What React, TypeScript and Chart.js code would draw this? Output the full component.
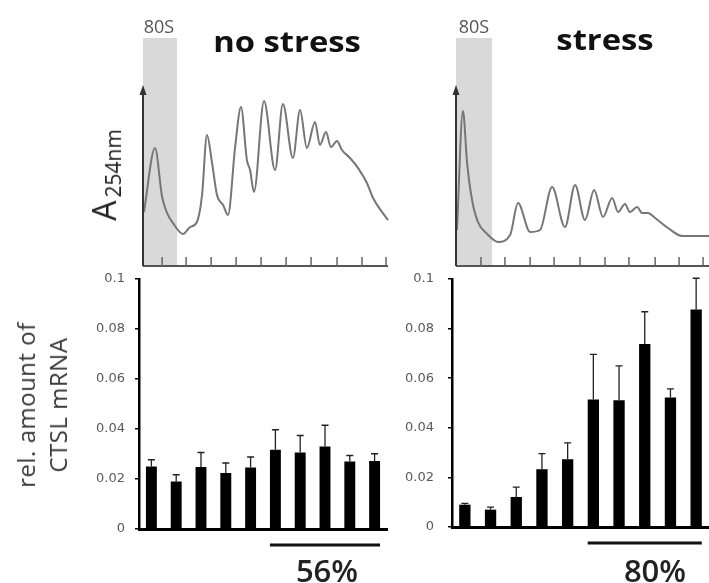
import React, { useEffect, useRef } from 'react';
import { Chart, registerables } from 'chart.js';

Chart.register(...registerables);

// ---------- data ----------
const fractions = ['1', '2', '3', '4', '5', '6', '7', '8', '9', '10'];
const yTickValues = [0, 0.02, 0.04, 0.06, 0.08, 0.1];

const noStressMean = [0.025, 0.019, 0.0248, 0.0224, 0.0246, 0.0317, 0.0306, 0.033, 0.027, 0.0272];
const noStressErr = [0.0027, 0.0027, 0.0058, 0.004, 0.0042, 0.008, 0.0068, 0.0085, 0.0024, 0.0029];
const stressMean = [0.009, 0.007, 0.0121, 0.0233, 0.0273, 0.0514, 0.0511, 0.0738, 0.0522, 0.0877];
const stressErr = [0.0005, 0.001, 0.004, 0.0063, 0.0066, 0.0182, 0.0139, 0.013, 0.0035, 0.0126];
const polysomeRange = [5, 9]; // fractions underlined (indices)

// polysome profiles (x: gradient position, y: A254 in arbitrary units)
const profileNoStressX = [0.04, 0.49, 0.78, 0.98, 1.22, 1.63, 1.92, 2.2, 2.41, 2.61, 2.82, 3.02, 3.27, 3.47, 3.76, 4.0, 4.24, 4.37, 4.53, 4.94, 5.39, 5.71, 6.12, 6.41, 6.69, 7.02, 7.22, 7.47, 7.67, 7.92, 8.12, 8.45, 8.78, 9.14, 9.39, 9.76, 10.0];
const profileNoStressY = [29.8, 65.2, 38.1, 29.3, 23.8, 17.7, 21.5, 24.3, 39.2, 72.4, 56.9, 39.2, 33.7, 28.2, 65.7, 87.8, 58.6, 53.0, 40.9, 91.2, 53.0, 89.5, 59.7, 86.2, 65.2, 79.6, 66.9, 74.0, 65.7, 69.1, 64.1, 59.7, 54.1, 45.9, 37.6, 29.8, 25.4];
const profileStressX = [0.04, 0.28, 0.45, 0.65, 0.89, 1.26, 1.7, 2.19, 2.51, 3.0, 3.4, 3.89, 4.41, 4.82, 5.22, 5.59, 5.95, 6.32, 6.56, 6.84, 7.04, 7.33, 7.53, 7.77, 8.06, 8.58, 9.15, 10.24];
const profileStressY = [19.9, 85.6, 56.9, 36.5, 24.3, 17.7, 13.3, 17.1, 34.8, 18.8, 19.9, 43.6, 21.5, 44.8, 25.4, 42.0, 27.1, 37.6, 29.8, 34.3, 29.8, 32.6, 29.3, 29.3, 26.5, 21.0, 16.6, 16.6];
const profileNoStressTicks = [0.78, 1.76, 2.78, 3.8, 4.82, 5.84, 6.86, 7.92, 8.94, 9.92];
const profileStressTicks = [1.01, 1.98, 3.0, 3.97, 5.02, 6.03, 7.0, 8.06, 9.03, 10.0];
const band80SNoStress = [0, 1.39];
const band80SStress = [0, 1.46];

// ---------- components ----------
type ProfileProps = {
  xs: number[]; ys: number[]; ticks: number[]; band: number[]; xMax: number;
  left: number; width: number; padding: { left: number; right: number; top: number; bottom: number };
};

function ProfileChart(p: ProfileProps) {
  const ref = useRef<HTMLCanvasElement>(null);
  useEffect(() => {
    const plugin = {
      id: 'profileDecor',
      beforeDatasetsDraw(chart: any) {
        const { ctx, scales } = chart;
        const x = scales.x, y = scales.y;
        const x0 = x.getPixelForValue(p.band[0]);
        const x1 = x.getPixelForValue(p.band[1]);
        const yb = y.getPixelForValue(0);
        const yt = y.getPixelForValue(y.max);
        ctx.save();
        ctx.fillStyle = '#d9d9d9';
        ctx.fillRect(x0, yt, x1 - x0, yb - yt);
        ctx.restore();
      },
      afterDatasetsDraw(chart: any) {
        const { ctx, scales } = chart;
        const x = scales.x, y = scales.y;
        const yb = y.getPixelForValue(0);
        const xl = x.getPixelForValue(0);
        const xr = x.getPixelForValue(x.max);
        ctx.save();
        // x axis
        ctx.strokeStyle = '#555';
        ctx.lineWidth = 2;
        ctx.beginPath();
        ctx.moveTo(xl, yb);
        ctx.lineTo(xr, yb);
        ctx.stroke();
        ctx.lineWidth = 1.5;
        ctx.strokeStyle = '#666';
        p.ticks.forEach((t) => {
          const px = x.getPixelForValue(t);
          ctx.beginPath();
          ctx.moveTo(px, yb);
          ctx.lineTo(px, yb - 9);
          ctx.stroke();
        });
        // y axis with arrow
        const ya = y.getPixelForValue(100);
        ctx.strokeStyle = '#333';
        ctx.lineWidth = 2;
        ctx.beginPath();
        ctx.moveTo(xl, yb);
        ctx.lineTo(xl, ya + 6);
        ctx.stroke();
        ctx.fillStyle = '#333';
        ctx.beginPath();
        ctx.moveTo(xl, ya);
        ctx.lineTo(xl - 3.5, ya + 10);
        ctx.lineTo(xl + 3.5, ya + 10);
        ctx.closePath();
        ctx.fill();
        ctx.restore();
      },
    };
    const chart = new Chart(ref.current as HTMLCanvasElement, {
      type: 'line',
      data: {
        datasets: [{
          data: p.xs.map((v, i) => ({ x: v, y: p.ys[i] })),
          borderColor: '#767676',
          borderWidth: 2,
          pointRadius: 0,
          cubicInterpolationMode: 'monotone',
          clip: false as any,
        }],
      },
      options: {
        animation: false,
        responsive: false,
        maintainAspectRatio: false,
        events: [],
        layout: { padding: p.padding },
        plugins: { legend: { display: false }, tooltip: { enabled: false } },
        scales: {
          x: { type: 'linear', min: 0, max: p.xMax, display: false },
          y: { type: 'linear', min: 0, max: 126, display: false },
        },
      },
      plugins: [plugin],
    } as any);
    return () => chart.destroy();
  }, []);
  return (
    <canvas ref={ref} width={p.width} height={280}
      style={{ position: 'absolute', left: p.left, top: 0, width: p.width, height: 280 }} />
  );
}

type BarProps = {
  means: number[]; errs: number[]; left: number; width: number;
  axisWidth: number; padRight: number; padBottom: number; labelPad: number;
};

function BarChart(p: BarProps) {
  const ref = useRef<HTMLCanvasElement>(null);
  useEffect(() => {
    const plugin = {
      id: 'errorBars',
      afterDatasetsDraw(chart: any) {
        const { ctx } = chart;
        const y = chart.scales.y;
        const meta = chart.getDatasetMeta(0);
        ctx.save();
        ctx.strokeStyle = '#222';
        ctx.lineWidth = 1.3;
        meta.data.forEach((bar: any, i: number) => {
          const top = y.getPixelForValue(p.means[i] + p.errs[i]);
          ctx.beginPath();
          ctx.moveTo(bar.x, bar.y);
          ctx.lineTo(bar.x, top);
          ctx.moveTo(bar.x - 3.5, top);
          ctx.lineTo(bar.x + 3.5, top);
          ctx.stroke();
        });
        const a = meta.data[polysomeRange[0]];
        const b = meta.data[polysomeRange[1]];
        const yLine = y.getPixelForValue(0) + 16;
        ctx.strokeStyle = '#111';
        ctx.lineWidth = 3;
        ctx.beginPath();
        ctx.moveTo(a.x - a.width / 2, yLine);
        ctx.lineTo(b.x + b.width / 2, yLine);
        ctx.stroke();
        ctx.restore();
      },
    };
    const chart = new Chart(ref.current as HTMLCanvasElement, {
      type: 'bar',
      data: {
        labels: fractions,
        datasets: [{
          data: p.means,
          backgroundColor: '#000',
          borderWidth: 0,
          barPercentage: 0.44,
          categoryPercentage: 1,
        }],
      },
      options: {
        animation: false,
        responsive: false,
        maintainAspectRatio: false,
        events: [],
        layout: { padding: { left: 0, right: p.padRight, top: 9, bottom: p.padBottom } },
        plugins: { legend: { display: false }, tooltip: { enabled: false } },
        scales: {
          x: {
            grid: { display: false, drawTicks: false },
            ticks: { display: false },
            border: { display: true, color: '#000', width: 3 },
            afterFit: (s: any) => { s.height = 0; },
          },
          y: {
            min: 0,
            max: 0.1,
            afterBuildTicks: (s: any) => { s.ticks = yTickValues.map((v) => ({ value: v })); },
            ticks: {
              callback: (v: any) => String(+Number(v).toFixed(3)),
              font: { family: 'DejaVu Sans', size: 13 },
              color: '#5a5a5a',
              padding: p.labelPad,
            },
            grid: { drawOnChartArea: false, drawTicks: true, tickLength: 4, color: '#000', lineWidth: 1.5 },
            border: { display: true, color: '#000', width: 2.5 },
            afterFit: (s: any) => { s.width = p.axisWidth; s.paddingTop = 0; s.paddingBottom = 0; },
          },
        },
      },
      plugins: [plugin],
    } as any);
    return () => chart.destroy();
  }, []);
  return (
    <canvas ref={ref} width={p.width} height={290}
      style={{ position: 'absolute', left: p.left, top: 270, width: p.width, height: 290 }} />
  );
}

const abs = (s: React.CSSProperties): React.CSSProperties => ({
  position: 'absolute', whiteSpace: 'nowrap', lineHeight: 1, margin: 0, ...s,
});

export default function App() {
  return (
    <div style={{ position: 'fixed', left: 0, top: 0, width: 709, height: 583, overflow: 'hidden', background: '#fff', fontFamily: '"Open Sans", sans-serif' }}>
      <ProfileChart xs={profileNoStressX} ys={profileNoStressY} ticks={profileNoStressTicks} band={band80SNoStress}
        xMax={10} left={0} width={400} padding={{ left: 143, right: 12, top: 38, bottom: 14 }} />
      <ProfileChart xs={profileStressX} ys={profileStressY} ticks={profileStressTicks} band={band80SStress}
        xMax={10.24} left={400} width={309} padding={{ left: 56, right: 0, top: 38, bottom: 14 }} />
      <BarChart means={noStressMean} errs={noStressErr} left={0} width={400} axisWidth={139} padRight={13} padBottom={31} labelPad={10} />
      <BarChart means={stressMean} errs={stressErr} left={400} width={309} axisWidth={52} padRight={0} padBottom={33} labelPad={14} />

      {/* titles */}
      <div style={abs({ left: 159, top: 17, fontSize: 18, color: '#555', transform: 'translateX(-50%)' })}>80S</div>
      <div style={abs({ left: 474, top: 17, fontSize: 18, color: '#555', transform: 'translateX(-50%)' })}>80S</div>
      <div style={abs({ left: 287, top: 27, fontSize: 28, fontWeight: 700, color: '#111', transform: 'translateX(-50%) scaleX(1.17)' })}>no stress</div>
      <div style={abs({ left: 605, top: 25, fontSize: 28, fontWeight: 700, color: '#111', transform: 'translateX(-50%) scaleX(1.17)' })}>stress</div>

      {/* A254nm axis label */}
      <div style={abs({ left: 105.6, top: 175, fontSize: 32, lineHeight: '40px', color: '#222', transform: 'translate(-50%, -50%) rotate(-90deg)' })}>
        <span>A</span>
        <span style={{ fontSize: 21, position: 'relative', top: 5, marginLeft: 3 }}>254nm</span>
      </div>

      {/* bar chart y label */}
      <div style={abs({ left: 41.7, top: 405, fontSize: 24, lineHeight: '32px', letterSpacing: 0.5, color: '#3a3a3a', textAlign: 'center', transform: 'translate(-50%, -50%) rotate(-90deg)' })}>
        rel. amount of<br />CTSL mRNA
      </div>

      {/* percentages */}
      <div style={abs({ left: 327, top: 555, fontSize: 31, fontWeight: 600, color: '#222', transform: 'translateX(-50%)' })}>56%</div>
      <div style={abs({ left: 655, top: 555, fontSize: 31, fontWeight: 600, color: '#222', transform: 'translateX(-50%)' })}>80%</div>
    </div>
  );
}
